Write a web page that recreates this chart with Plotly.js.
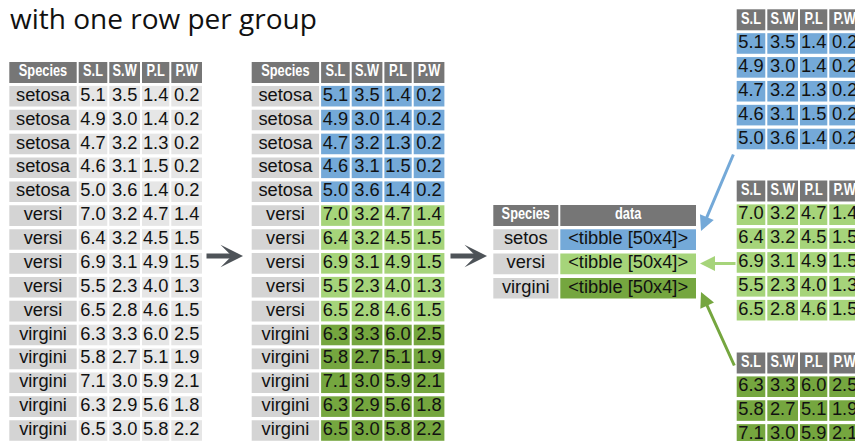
<!DOCTYPE html>
<html><head><meta charset="utf-8">
<script src="https://cdn.plot.ly/plotly-3.0.1.min.js"></script>
<style>html,body{margin:0;padding:0;background:#fff}</style>
</head><body><div id="chart" style="width:855px;height:441px"></div>
<script>
// ---------------- data ----------------
const columns = ['Species', 'S.L', 'S.W', 'P.L', 'P.W'];
const species = ['setosa','setosa','setosa','setosa','setosa',
                 'versi','versi','versi','versi','versi',
                 'virgini','virgini','virgini','virgini','virgini'];
const sepalLength = [5.1,4.9,4.7,4.6,5.0, 7.0,6.4,6.9,5.5,6.5, 6.3,5.8,7.1,6.3,6.5];
const sepalWidth  = [3.5,3.0,3.2,3.1,3.6, 3.2,3.2,3.1,2.3,2.8, 3.3,2.7,3.0,2.9,3.0];
const petalLength = [1.4,1.4,1.3,1.5,1.4, 4.7,4.5,4.9,4.0,4.6, 6.0,5.1,5.9,5.6,5.8];
const petalWidth  = [0.2,0.2,0.2,0.2,0.2, 1.4,1.5,1.5,1.3,1.5, 2.5,1.9,2.1,1.8,2.2];
const groupKeys   = ['setosa', 'versi', 'virgini'];
const groupLabels = ['setos', 'versi', 'virgini'];
const nestedColumns = ['Species', 'data'];
const nestedCellText = '<tibble [50x4]>';
const titleText = 'with one row per group';

// ---------------- styling / layout ----------------
const COL = {
  header: '#767676', speciesCell: '#d4d4d4', valueCell: '#e6e6e6',
  groups: ['#74A9D8', '#A6D47A', '#75A63F'],
  bigArrow: '#4e5358', text: '#111111', headerText: '#ffffff'
};
const G = {
  colW: [67.4, 28.6, 30.7, 27.3, 30.7], gap: 2,
  headH: 21, cellH: 20.6, pitch: 23.88,
  t1x: 9.3, t2x: 251.7, tablesTop: 62,
  rightX: 736.7, rightTops: [9.3, 180.5, 352.5],
  nestX: 493.3, nestW: [65, 135.7], nestTop: 205, nestPitch: 24.3
};
const BIG_ARROWS = [{x0: 205, x1: 243, y: 256}, {x0: 449, x1: 487, y: 256}];
const LINKS = [ // tail -> tip, one per group
  {ax: 734, ay: 153, x: 701, y: 231},
  {ax: 737, ay: 263.5, x: 700, y: 263.5},
  {ax: 735, ay: 367, x: 701, y: 292}
];
const HEADER_CONDENSE = 0.8;

const BODY_FONT = {family: 'Liberation Sans, Arial, sans-serif', size: 18.3, color: COL.text};
const HEAD_FONT = {family: 'Liberation Sans, Arial, sans-serif', size: 16, color: COL.headerText, weight: 'bold'};

const valueCols = [sepalLength, sepalWidth, petalLength, petalWidth];
const esc = s => s.replace(/&/g,'&amp;').replace(/</g,'&lt;').replace(/>/g,'&gt;');

const shapes = [];
const headT = {x: [], y: [], t: []};
const bodyT = {x: [], y: [], t: []};
function rect(x, y, w, h, fill) {
  shapes.push({type: 'rect', xref: 'x', yref: 'y', x0: x, x1: x + w, y0: y, y1: y + h,
               fillcolor: fill, line: {width: 0}, layer: 'below'});
}
function put(store, x, y, t) { store.x.push(x); store.y.push(y); store.t.push(t); }
function colLefts(x0, widths, gap) {
  const out = []; let x = x0;
  widths.forEach(w => { out.push(x); x += w + gap; });
  return out;
}

function drawLongTable(x0, colored) {
  const lefts = colLefts(x0, G.colW, G.gap);
  columns.forEach((c, j) => {
    rect(lefts[j], G.tablesTop, G.colW[j], G.headH, COL.header);
    put(headT, lefts[j] + G.colW[j] / 2, G.tablesTop + G.headH / 2, c);
  });
  species.forEach((s, i) => {
    const y = G.tablesTop + (i + 1) * G.pitch;
    rect(lefts[0], y, G.colW[0], G.cellH, COL.speciesCell);
    put(bodyT, lefts[0] + G.colW[0] / 2, y + G.cellH / 2, s);
    valueCols.forEach((arr, k) => {
      const fill = colored ? COL.groups[groupKeys.indexOf(s)] : COL.valueCell;
      rect(lefts[k + 1], y, G.colW[k + 1], G.cellH, fill);
      put(bodyT, lefts[k + 1] + G.colW[k + 1] / 2, y + G.cellH / 2, arr[i].toFixed(1));
    });
  });
}
drawLongTable(G.t1x, false);
drawLongTable(G.t2x, true);

// nested table
(function () {
  const lefts = colLefts(G.nestX, G.nestW, G.gap);
  nestedColumns.forEach((c, j) => {
    rect(lefts[j], G.nestTop, G.nestW[j], G.headH, COL.header);
    put(headT, lefts[j] + G.nestW[j] / 2, G.nestTop + G.headH / 2, c);
  });
  groupLabels.forEach((lab, g) => {
    const y = G.nestTop + (g + 1) * G.nestPitch;
    rect(lefts[0], y, G.nestW[0], G.cellH, COL.speciesCell);
    put(bodyT, lefts[0] + G.nestW[0] / 2, y + G.cellH / 2, lab);
    rect(lefts[1], y, G.nestW[1], G.cellH, COL.groups[g]);
    put(bodyT, lefts[1] + G.nestW[1] / 2, y + G.cellH / 2, esc(nestedCellText));
  });
})();

// per-group nested tibbles on the right
groupKeys.forEach((key, g) => {
  const widths = G.colW.slice(1);
  const lefts = colLefts(G.rightX, widths, G.gap);
  const top = G.rightTops[g];
  columns.slice(1).forEach((c, j) => {
    rect(lefts[j], top, widths[j], G.headH, COL.header);
    put(headT, lefts[j] + widths[j] / 2, top + G.headH / 2, c);
  });
  let r = 0;
  species.forEach((s, i) => {
    if (s !== key) return;
    r += 1;
    const y = top + r * G.pitch;
    valueCols.forEach((arr, k) => {
      rect(lefts[k], y, widths[k], G.cellH, COL.groups[g]);
      put(bodyT, lefts[k] + widths[k] / 2, y + G.cellH / 2, arr[i].toFixed(1));
    });
  });
});

const annotations = [];
BIG_ARROWS.forEach(a => annotations.push({
  x: a.x1, y: a.y, ax: a.x0, ay: a.y, xref: 'x', yref: 'y', axref: 'x', ayref: 'y',
  text: '', showarrow: true, arrowhead: 3, arrowsize: 0.75, arrowwidth: 5,
  arrowcolor: COL.bigArrow, standoff: 0, startstandoff: 0
}));
LINKS.forEach((l, g) => annotations.push({
  x: l.x, y: l.y, ax: l.ax, ay: l.ay, xref: 'x', yref: 'y', axref: 'x', ayref: 'y',
  text: '', showarrow: true, arrowhead: 2, arrowsize: 1, arrowwidth: 3,
  arrowcolor: COL.groups[g], standoff: 0, startstandoff: 0
}));

const traces = [
  {type: 'scatter', mode: 'text', x: bodyT.x, y: bodyT.y, text: bodyT.t,
   textposition: 'middle center', textfont: BODY_FONT, hoverinfo: 'skip', showlegend: false},
  {type: 'scatter', mode: 'text', x: headT.x, y: headT.y, text: headT.t,
   textposition: 'middle center', textfont: HEAD_FONT, hoverinfo: 'skip', showlegend: false}
];

const layout = {
  width: 855, height: 441,
  margin: {l: 0, r: 0, t: 0, b: 0, pad: 0},
  paper_bgcolor: '#ffffff', plot_bgcolor: '#ffffff',
  title: {text: titleText, x: 10 / 855, xanchor: 'left', y: 1 - 19 / 441, yanchor: 'middle',
          font: {family: 'Open Sans, Noto Sans, sans-serif', size: 28, color: '#111111'}},
  xaxis: {range: [0, 855], visible: false, fixedrange: true},
  yaxis: {range: [441, 0], visible: false, fixedrange: true},
  shapes: shapes, annotations: annotations, showlegend: false, hovermode: false
};
Plotly.newPlot('chart', traces, layout, {staticPlot: true, displayModeBar: false}).then(gd => {
  // condensed header lettering (no narrow face is installed)
  const tr = gd.querySelectorAll('.scatterlayer .trace')[1];
  if (!tr) return;
  tr.querySelectorAll('text').forEach(el => {
    const cx = parseFloat(el.getAttribute('x'));
    if (isNaN(cx)) return;
    el.setAttribute('transform', `translate(${cx},0) scale(${HEADER_CONDENSE},1) translate(${-cx},0)`);
  });
});
</script></body></html>
